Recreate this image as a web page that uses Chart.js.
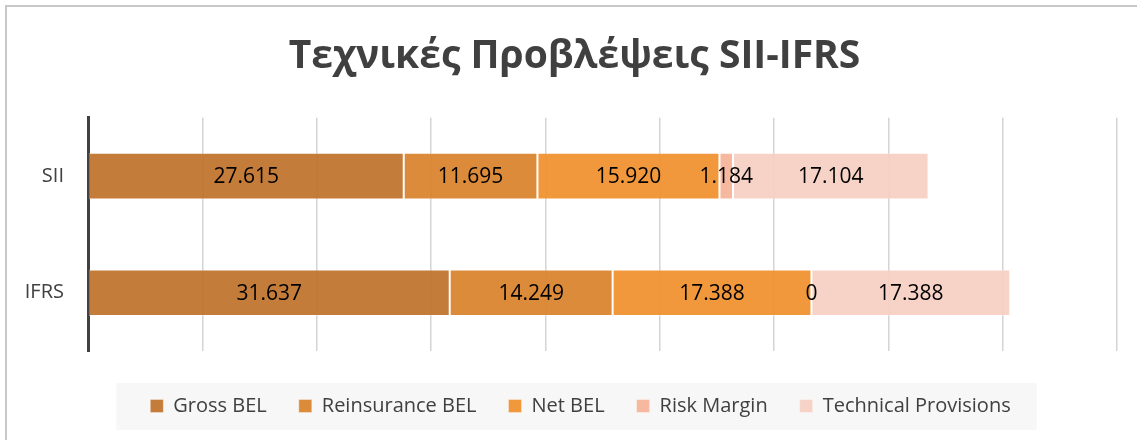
<!DOCTYPE html>
<html>
<head>
<meta charset="utf-8">
<script src="https://cdn.jsdelivr.net/npm/chart.js@4"></script>
<style>
  html, body { margin: 0; padding: 0; background: #fff; }
  #wrap { position: absolute; left: 0; top: 0; width: 1137px; height: 440px; }
  #frame { position: absolute; left: 5px; top: 5px; width: 1140px; height: 440px;
           border-left: 2px solid #c8c8c8; border-top: 2px solid #c8c8c8; pointer-events: none; }
</style>
</head>
<body>
<div id="wrap"><canvas id="tp-chart" width="1137" height="440"></canvas></div>
<div id="frame"></div>
<script>
const ctx = document.getElementById('tp-chart');

// categories and series (values in thousands)
var categories = ['SII', 'IFRS'];
var grossBEL = [27615, 31637];
var reinsuranceBEL = [11695, 14249];
var netBEL = [15920, 17388];
var riskMargin = [1184, 0];
var technicalProvisions = [17104, 17388];

var seriesNames = ['Gross BEL', 'Reinsurance BEL', 'Net BEL', 'Risk Margin', 'Technical Provisions'];
var seriesData = [grossBEL, reinsuranceBEL, netBEL, riskMargin, technicalProvisions];
var seriesColors = ['rgba(192,116,46,0.94)', 'rgba(218,132,47,0.94)', 'rgba(241,146,48,0.94)',
                    'rgba(246,180,154,0.94)', 'rgba(247,208,195,0.94)'];

function fmt(v) {
    return String(v).replace(/\B(?=(\d{3})+(?!\d))/g, '.');
}

// values drawn centred inside every segment
const barLabels = {
    id: 'barLabels',
    afterDatasetsDraw(chart) {
        const c = chart.ctx;
        c.save();
        c.font = '21px "Open Sans"';
        c.fillStyle = '#000';
        c.textAlign = 'center';
        c.textBaseline = 'middle';
        chart.data.datasets.forEach((ds, i) => {
            chart.getDatasetMeta(i).data.forEach((bar, j) => {
                const p = bar.getProps(['x', 'y', 'base'], true);
                c.fillText(fmt(ds.data[j]), (p.x + p.base) / 2, p.y + 1);
            });
        });
        c.restore();
    }
};

// nudge title and legend right (they are centred a bit off in the original),
// grey box behind the legend
const legendBox = {
    id: 'legendBox',
    afterLayout(chart) {
        chart.legend.left += 22;
        chart.legend.right += 22;
        chart.titleBlock.left += 16;
        chart.titleBlock.right += 16;
    },
    beforeDraw(chart) {
        const hits = chart.legend.legendHitBoxes;
        if (!hits || !hits.length) return;
        const first = hits[0], last = hits[hits.length - 1];
        const c = chart.ctx;
        c.save();
        c.fillStyle = '#f7f7f7';
        c.fillRect(first.left - 34, first.top - 13, last.left + last.width - first.left + 60, first.height + 27);
        c.restore();
    }
};

var datasets = [];
for (var i = 0; i < seriesNames.length; i++) {
    datasets.push({
        label: seriesNames[i],
        data: seriesData[i],
        backgroundColor: seriesColors[i],
        borderColor: 'rgba(255,255,255,0.35)',
        borderWidth: 1,
        borderSkipped: false,
        categoryPercentage: 1,
        barPercentage: 0.4
    });
}

const config = {
    type: 'bar',
    data: { labels: categories, datasets: datasets },
    plugins: [legendBox, barLabels],
    options: {
        indexAxis: 'y',
        responsive: false,
        animation: false,
        layout: { padding: { left: 0, right: 20, top: 0, bottom: 14 } },
        scales: {
            x: {
                stacked: true,
                min: 0,
                max: 90000,
                afterFit(scale) { scale.height = 13; },
                ticks: { display: false, stepSize: 10000 },
                grid: { color: '#d4d4d4', lineWidth: 1.5, drawTicks: false },
                border: { display: false }
            },
            y: {
                stacked: true,
                afterFit(scale) { scale.width = 88; },
                ticks: { color: '#404040', font: { family: 'Open Sans', size: 20 }, padding: 24 },
                grid: { display: false, drawTicks: false },
                border: { color: '#404040', width: 3 }
            }
        },
        plugins: {
            title: {
                display: true,
                text: 'Τεχνικές Προβλέψεις SII-IFRS',
                color: '#404040',
                font: { family: 'Open Sans', size: 39, weight: 'bold' },
                padding: { top: 33, bottom: 38 }
            },
            legend: {
                position: 'bottom',
                labels: {
                    color: '#404040',
                    font: { family: 'Open Sans', size: 20 },
                    boxWidth: 13,
                    boxHeight: 13,
                    padding: 32
                }
            },
            tooltip: { enabled: false }
        }
    }
};

new Chart(ctx, config);
</script>
</body>
</html>
